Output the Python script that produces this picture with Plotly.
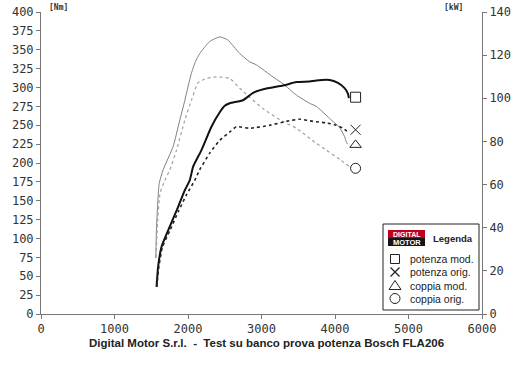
import plotly.graph_objects as go

# ---- data ----
rpm_pmod = [1572, 1594, 1640, 1753, 1866, 1957, 2024, 2070, 2183, 2319, 2432, 2500, 2568, 2749, 2885, 3066, 3292, 3474, 3655, 3746, 3927, 4040, 4130, 4176, 4189]
kw_pmod = [12.6, 22.1, 31.2, 40.6, 49.7, 57.4, 62.0, 68.3, 76.0, 86.8, 93.5, 96.5, 97.7, 99.1, 102.5, 104.5, 105.9, 107.5, 107.8, 108.3, 108.5, 107.1, 104.7, 102.2, 100.1]

rpm_porig = [1575, 1600, 1650, 1760, 1870, 1980, 2092, 2160, 2296, 2432, 2568, 2658, 2840, 3111, 3338, 3519, 3700, 3882, 4017, 4108, 4176]
kw_porig = [12.6, 21.0, 30.8, 39.2, 47.6, 55.3, 62.0, 66.9, 74.6, 80.5, 84.4, 86.8, 86.1, 87.5, 89.3, 90.3, 89.3, 88.6, 87.5, 86.1, 84.4]

rpm_cmod = [1562, 1572, 1608, 1662, 1798, 1889, 1957, 2010, 2047, 2100, 2160, 2296, 2432, 2541, 2704, 2840, 2931, 3156, 3292, 3474, 3655, 3746, 3927, 4062, 4130, 4153, 4170]
nm_cmod = [74, 116, 173, 191, 222, 257, 283, 305, 319, 334, 345, 361, 367, 363, 345, 334, 330, 314, 305, 290, 279, 275, 259, 247, 235, 228, 225]

rpm_corig = [1565, 1585, 1620, 1685, 1753, 1844, 1957, 2047, 2135, 2251, 2387, 2568, 2704, 2840, 3020, 3292, 3474, 3746, 3882, 4062, 4198]
nm_corig = [75, 120, 160, 177, 191, 217, 257, 283, 306, 312, 314, 312, 299, 287, 272, 255, 246, 226, 217, 205, 195]

# end markers (legend symbols)
marker_rpm = 4280
marker_pmod_kw = 100.5
marker_porig_kw = 85.4
marker_cmod_nm = 224
marker_corig_nm = 193

legend_labels = ["potenza mod.", "potenza orig.", "coppia mod.", "coppia orig."]
x_ticks = [0, 1000, 2000, 3000, 4000, 5000, 6000]
nm_ticks = list(range(0, 401, 25))
kw_ticks = list(range(0, 141, 20))

title_text = "Digital Motor S.r.l.  -  Test su banco prova potenza Bosch FLA206"

# ---- figure ----
W, H = 520, 367
L, R, T, B = 41, 482, 12, 314


def px(x):
    return (x - L) / (R - L)


def py(y):
    return (B - y) / (B - T)


fig = go.Figure()

fig.add_trace(go.Scatter(x=rpm_cmod, y=nm_cmod, mode="lines",
                         line=dict(color="#808080", width=1, shape="spline", smoothing=0.5),
                         showlegend=False))
fig.add_trace(go.Scatter(x=rpm_corig, y=nm_corig, mode="lines",
                         line=dict(color="#a0a0a0", width=1.2, dash="dot", shape="spline", smoothing=0.5),
                         showlegend=False))
fig.add_trace(go.Scatter(x=rpm_pmod, y=kw_pmod, mode="lines", yaxis="y2",
                         line=dict(color="#111111", width=2, shape="spline", smoothing=0.5),
                         showlegend=False))
fig.add_trace(go.Scatter(x=rpm_porig, y=kw_porig, mode="lines", yaxis="y2",
                         line=dict(color="#222222", width=1.6, dash="dot", shape="spline", smoothing=0.5),
                         showlegend=False))

mk = dict(size=10, color="#222222", line=dict(color="#222222", width=1))
fig.add_trace(go.Scatter(x=[marker_rpm], y=[marker_pmod_kw], yaxis="y2", mode="markers",
                         marker=dict(symbol="square-open", **mk), showlegend=False))
fig.add_trace(go.Scatter(x=[marker_rpm], y=[marker_porig_kw], yaxis="y2", mode="markers",
                         marker=dict(symbol="x-thin-open", **mk), showlegend=False))
fig.add_trace(go.Scatter(x=[marker_rpm], y=[marker_cmod_nm], mode="markers",
                         marker=dict(symbol="triangle-up-open", **mk), showlegend=False))
fig.add_trace(go.Scatter(x=[marker_rpm], y=[marker_corig_nm], mode="markers",
                         marker=dict(symbol="circle-open", **mk), showlegend=False))

tickfont = dict(family="DejaVu Sans Mono", size=12, color="#333333")
axcommon = dict(showgrid=False, zeroline=False, showline=True, linecolor="#777777",
                linewidth=1, ticks="outside", ticklen=4, tickcolor="#777777",
                tickfont=tickfont, automargin=False)

shapes = []
annotations = []


def ann(text, x, y, size, family="Liberation Sans", color="#222222", xa="left", ya="middle"):
    annotations.append(dict(text=text, xref="paper", yref="paper", x=px(x), y=py(y),
                            xanchor=xa, yanchor=ya, showarrow=False,
                            font=dict(family=family, size=size, color=color)))


# legend box
shapes.append(dict(type="rect", xref="paper", yref="paper",
                   x0=px(383), x1=px(479), y0=py(310), y1=py(224),
                   line=dict(color="#222222", width=1), fillcolor="white", layer="above"))
# logo
shapes.append(dict(type="rect", xref="paper", yref="paper",
                   x0=px(388), x1=px(425), y0=py(238), y1=py(230),
                   line=dict(width=0), fillcolor="#c0001a", layer="above"))
shapes.append(dict(type="rect", xref="paper", yref="paper",
                   x0=px(388), x1=px(425), y0=py(246), y1=py(238),
                   line=dict(width=0), fillcolor="#151515", layer="above"))
ann("<b>DIGITAL</b>", 406.5, 234, 7, color="white", xa="center")
ann("<b>MOTOR</b>", 406.5, 242.2, 7.5, color="white", xa="center")
ann("<b>Legenda</b>", 431, 238.5, 9.5)

# legend symbols
row_y = [259, 272, 285.5, 298.5]
cx = 395
s = 4.5
shapes.append(dict(type="rect", xref="paper", yref="paper",
                   x0=px(cx - s), x1=px(cx + s), y0=py(row_y[0] + s), y1=py(row_y[0] - s),
                   line=dict(color="#222222", width=1), layer="above"))
shapes.append(dict(type="line", xref="paper", yref="paper",
                   x0=px(cx - s), x1=px(cx + s), y0=py(row_y[1] + s), y1=py(row_y[1] - s),
                   line=dict(color="#222222", width=1.2), layer="above"))
shapes.append(dict(type="line", xref="paper", yref="paper",
                   x0=px(cx - s), x1=px(cx + s), y0=py(row_y[1] - s), y1=py(row_y[1] + s),
                   line=dict(color="#222222", width=1.2), layer="above"))
tri = "M {a},{b} L {c},{b} L {d},{e} Z".format(
    a=px(cx - 6), b=py(row_y[2] + 4), c=px(cx + 6), d=px(cx), e=py(row_y[2] - 5))
shapes.append(dict(type="path", xref="paper", yref="paper", path=tri,
                   line=dict(color="#222222", width=1), layer="above"))
shapes.append(dict(type="circle", xref="paper", yref="paper",
                   x0=px(cx - 5), x1=px(cx + 5), y0=py(row_y[3] + 5), y1=py(row_y[3] - 5),
                   line=dict(color="#222222", width=1), layer="above"))
for lab, yy in zip(legend_labels, row_y):
    ann(lab, 408, yy, 10.5)

# unit labels
ann("<b>[Nm]</b>", 47, 7, 8, family="DejaVu Sans Mono", color="#333333")
ann("<b>[kW]</b>", 442, 7, 8, family="DejaVu Sans Mono", color="#333333")
# bottom title
ann("<b>" + title_text + "</b>", 266, 343, 11.5, xa="center")

fig.update_layout(
    width=W, height=H,
    margin=dict(l=L, r=W - R, t=T, b=H - B, pad=0),
    paper_bgcolor="white", plot_bgcolor="white",
    showlegend=False,
    xaxis=dict(range=[0, 6000], tickvals=x_ticks, **axcommon),
    yaxis=dict(range=[0, 400], tickvals=nm_ticks, **axcommon),
    yaxis2=dict(range=[0, 140], tickvals=kw_ticks, overlaying="y", side="right",
                anchor="x", **axcommon),
    shapes=shapes, annotations=annotations,
)

fig.write_html("out.html")
